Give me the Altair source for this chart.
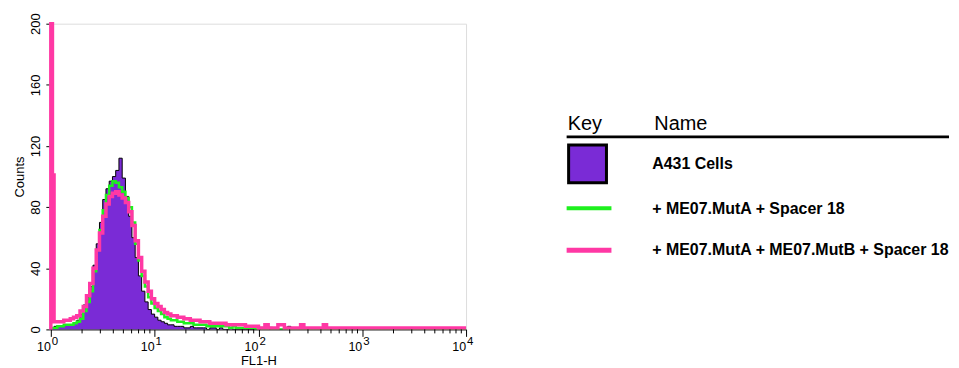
import altair as alt
import pandas as pd

# ---------------- data (counts per channel, 32 channels per decade, 10^0 .. 10^4) -------------
BINS_PER_DECADE = 32

a431_cells = [
    1, 2, 2, 2, 3, 3, 3, 4, 6, 10,
    16, 21, 28, 42, 56, 70, 85, 92, 97, 100,
    104, 112, 99, 87, 74, 60, 47, 35, 25, 18,
    13, 10, 8, 6, 5, 4, 3, 3, 2, 2,
    2, 1, 1, 2, 1, 1, 1, 1, 0, 1,
    1, 0, 1, 0, 0, 1, 0, 0, 0, 0,
    0, 0, 0, 0, 0, 0, 0, 0, 0, 0,
    0, 0, 0, 2, 0, 0, 0, 0, 0, 0,
    0, 0, 0, 0, 0, 0, 0, 0, 0, 0,
    0, 0, 0, 0, 0, 0, 0, 0, 0, 0,
    0, 0, 0, 0, 0, 0, 0, 0, 0, 0,
    0, 0, 0, 0, 0, 0, 0, 0, 0, 0,
    0, 0, 0, 0, 0, 0, 0, 0,
]

muta_spacer = [
    1, 1, 2, 2, 3, 3, 3, 4, 5, 7,
    12, 18, 25, 38, 52, 65, 78, 88, 94, 97,
    96, 93, 90, 86, 80, 70, 56, 45, 35, 28,
    21, 17, 14, 12, 10, 8, 7, 6, 6, 5,
    5, 4, 4, 4, 3, 3, 3, 3, 2, 2,
    2, 2, 2, 2, 2, 1, 2, 1, 1, 1,
    1, 1, 1, 0, 1, 0, 0, 1, 0, 0,
    0, 0, 0, 0, 0, 0, 0, 0, 0, 0,
    0, 0, 0, 0, 0, 0, 0, 0, 0, 0,
    0, 0, 0, 0, 0, 0, 0, 0, 0, 0,
    0, 0, 0, 0, 0, 0, 0, 0, 0, 0,
    0, 0, 0, 0, 0, 0, 0, 0, 0, 0,
    0, 0, 0, 0, 0, 0, 0, 0,
]

# the first 1/32-decade bin of this sample, at the instrument's native 1/64-decade channels
# (channel 0 is off scale and reaches the top of the 0-200 axis)
muta_mutb_first_channels = [200, 101]
# remaining 1/32-decade bins (bin 1 .. bin 127)
muta_mutb_spacer = [
    5, 5, 5, 6, 6, 7, 8, 9, 12,
    15, 22, 30, 40, 52, 63, 74, 82, 87, 89,
    90, 88, 86, 83, 77, 68, 58, 47, 38, 31,
    25, 20, 17, 15, 13, 11, 10, 9, 9, 8,
    8, 7, 7, 6, 6, 6, 5, 5, 5, 4,
    4, 4, 4, 4, 3, 3, 3, 3, 3, 3,
    2, 2, 2, 2, 1, 1, 3, 1, 1, 1,
    3, 3, 1, 1, 1, 1, 1, 3, 1, 1,
    1, 1, 1, 1, 3, 1, 1, 1, 1, 1,
    1, 1, 1, 1, 1, 1, 1, 1, 1, 1,
    1, 1, 1, 1, 1, 1, 1, 1, 1, 1,
    1, 1, 1, 1, 1, 1, 1, 1, 1, 1,
    1, 1, 1, 1, 1, 1, 1, 1,
]

series_names = ["A431 Cells", "+ ME07.MutA + Spacer 18", "+ ME07.MutA + ME07.MutB + Spacer 18"]
series_colors = ["#7a2bd6", "#1ef01e", "#ff38a4"]

decades = [1, 10, 100, 1000, 10000]
decade_exponents = ["0", "1", "2", "3", "4"]
minor_ticks = [m * d for d in [1, 10, 100, 1000] for m in range(2, 10)]
y_ticks = list(range(0, 201, 10))

FONT = "Liberation Sans"
W, H = 417, 307


def step_frame(edges, counts):
    xs = [edges[0]] + list(edges)
    ys = [0] + list(counts) + [counts[-1]]
    return pd.DataFrame({"x": xs, "y": ys})


coarse_edges = [10 ** (i / BINS_PER_DECADE) for i in range(4 * BINS_PER_DECADE + 1)]
fine_edges = [10 ** (k / (2 * BINS_PER_DECADE)) for k in range(len(muta_mutb_first_channels))]

x_scale = alt.Scale(type="log", domain=[1, 10000], nice=False)
y_scale = alt.Scale(domain=[0, 200], nice=False)

df_a = step_frame(coarse_edges, a431_cells)
df_g = step_frame(coarse_edges, muta_spacer)
df_p = step_frame(fine_edges + coarse_edges[1:], muta_mutb_first_channels + muta_mutb_spacer)

x_enc = alt.X(
    "x:Q", scale=x_scale,
    axis=alt.Axis(values=decades, labels=False, tickSize=7, grid=False, title="FL1-H",
                  titlePadding=18, titleFontSize=13, titleFontWeight="normal",
                  titleFont=FONT, titleColor="black", domainColor="black", tickColor="black"),
)
y_enc = alt.Y(
    "y:Q", scale=y_scale,
    axis=alt.Axis(values=y_ticks, labelExpr="datum.value % 40 == 0 ? datum.label : ''",
                  tickSize=5, grid=False, labelAngle=270, labelAlign="center",
                  labelBaseline="bottom", labelPadding=3, labelFontSize=13, labelFont=FONT,
                  labelColor="black", labelFlush=False, labelOverlap=False,
                  title="Counts", titlePadding=3, titleFontSize=13, titleFontWeight="normal",
                  titleFont=FONT, titleColor="black", domainColor="black", tickColor="black"),
)

area = alt.Chart(df_a).mark_area(interpolate="step-after", color=series_colors[0], clip=True).encode(
    x=x_enc, y=y_enc)
outline = alt.Chart(df_a).mark_line(interpolate="step-after", color="black", strokeWidth=1, clip=True).encode(
    x="x:Q", y="y:Q")
green = alt.Chart(df_g).mark_line(interpolate="step-after", color=series_colors[1], strokeWidth=2.5, clip=True).encode(
    x="x:Q", y="y:Q")
pink = alt.Chart(df_p).mark_line(interpolate="step-after", color=series_colors[2], strokeWidth=3.5).encode(
    x="x:Q", y="y:Q")

minor = alt.Chart(pd.DataFrame({"v": minor_ticks})).mark_rule(color="black", strokeWidth=1).encode(
    x="v:Q", y=alt.value(H), y2=alt.value(H + 4))

lab_df = pd.DataFrame({"v": decades, "base": ["10"] * len(decades), "exp": decade_exponents})
lab_base = alt.Chart(lab_df).mark_text(align="right", baseline="alphabetic", fontSize=12.5, font=FONT,
                                       color="black").encode(x="v:Q", y=alt.value(H + 22), text="base:N")
lab_exp = alt.Chart(lab_df).mark_text(align="left", baseline="alphabetic", fontSize=11.5, font=FONT,
                                      color="black", dx=1).encode(x="v:Q", y=alt.value(H + 16), text="exp:N")

one = pd.DataFrame({"a": [0]})
leg = []
leg.append(alt.Chart(one).mark_text(align="left", baseline="alphabetic", fontSize=20, font=FONT,
                                    color="black").encode(x=alt.value(519), y=alt.value(107), text=alt.value("Key")))
leg.append(alt.Chart(one).mark_text(align="left", baseline="alphabetic", fontSize=20, font=FONT,
                                    color="black").encode(x=alt.value(606), y=alt.value(107), text=alt.value("Name")))
leg.append(alt.Chart(one).mark_rule(color="black", strokeWidth=2.7).encode(
    x=alt.value(518), x2=alt.value(902), y=alt.value(113.7)))
leg.append(alt.Chart(one).mark_square(size=1444, color=series_colors[0], stroke="black", strokeWidth=3,
                                      opacity=1, filled=True).encode(x=alt.value(539), y=alt.value(140.7)))
leg.append(alt.Chart(one).mark_rule(color=series_colors[1], strokeWidth=4).encode(
    x=alt.value(518), x2=alt.value(563), y=alt.value(185.3)))
leg.append(alt.Chart(one).mark_rule(color=series_colors[2], strokeWidth=5).encode(
    x=alt.value(518), x2=alt.value(563), y=alt.value(227.5)))
for name, yy in zip(series_names, [145.7, 190.7, 232.5]):
    leg.append(alt.Chart(one).mark_text(align="left", baseline="alphabetic", fontSize=16, fontWeight="bold",
                                        font=FONT, color="black").encode(
        x=alt.value(604), y=alt.value(yy), text=alt.value(name)))

chart = alt.layer(area, outline, green, pink, minor, lab_base, lab_exp, *leg).properties(
    width=W, height=H, padding={"left": 5, "top": 4, "right": 0, "bottom": 0}
).configure_view(stroke="black", strokeWidth=1).configure(background="white")

chart.save("out.html", embed_options={"renderer": "svg", "actions": False})
